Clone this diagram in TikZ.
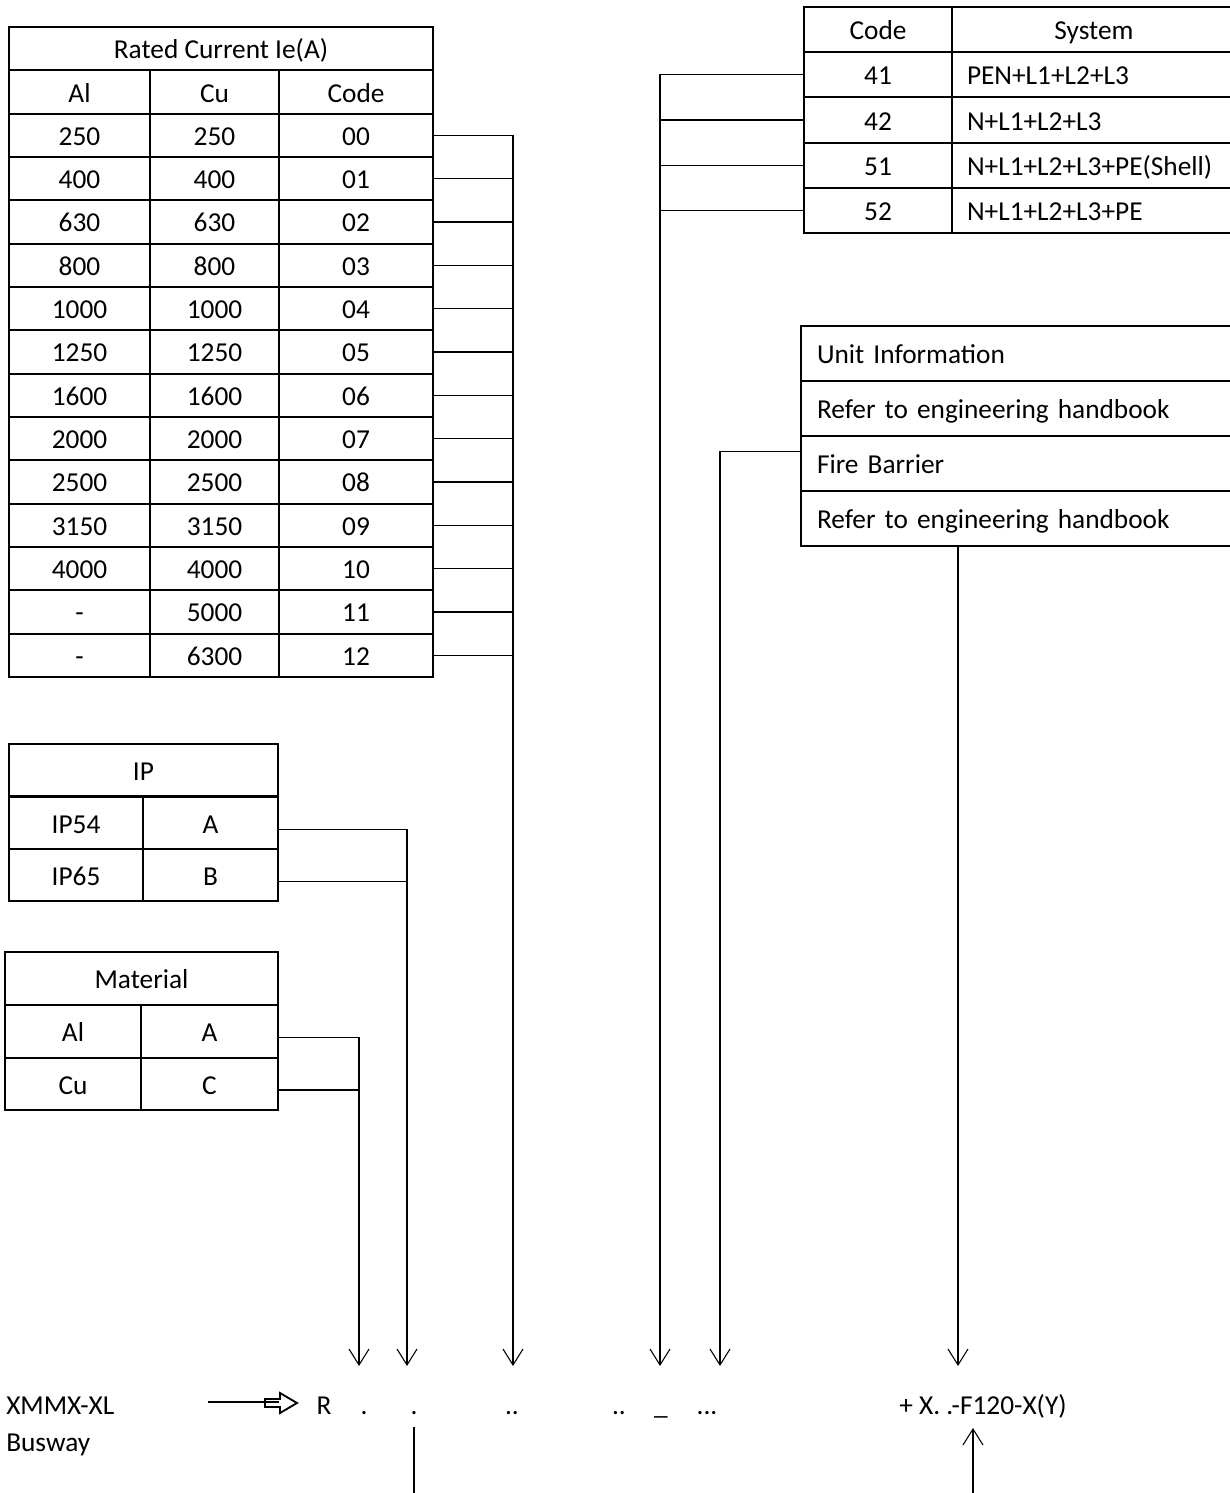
\documentclass[tikz,border=0pt]{standalone}
\usepackage{fontspec}
\setmainfont{Carlito}
\usetikzlibrary{arrows.meta, calc}
\tikzset{
  cellfont/.style={font=\fontsize{20.5}{24}\selectfont},
  cell/.style={draw, line width=1.5pt, inner sep=0pt, cellfont, text height=19pt,
    text depth=4pt, minimum width=#1*0.75pt},
  rowA/.style={minimum height=43.33*0.75pt},
  rowS/.style={minimum height=45.2*0.75pt},
  rowU/.style={minimum height=55*0.75pt},
  rowI/.style={minimum height=52.67*0.75pt},
  leftcell/.style={text width=#1*0.75pt, align=left},
  link/.style={line width=0.8pt},
  feed/.style={link, -{Straight Barb[length=12pt, width=15pt]}},
  codetext/.style={cellfont, inner sep=0pt, anchor=base},
}
\begin{document}
\begin{tikzpicture}[x=0.75pt, y=-0.75pt]
  \useasboundingbox (0,0) rectangle (1229,1493);

  % rated current table
  \node[cell=424, rowA] (rated) at (221,48.67) {Rated Current Ie(A)};
  \node[cell=141, rowA] (hAl) at (79.5,92) {Al};
  \node[cell=129, rowA] (hCu) at (214.5,92) {Cu};
  \node[cell=154, rowA] (hCode) at (356,92) {Code};
  \foreach \al/\cu/\code [count=\i from 0] in {250/250/00, 400/400/01, 630/630/02,
      800/800/03, 1000/1000/04, 1250/1250/05, 1600/1600/06, 2000/2000/07,
      2500/2500/08, 3150/3150/09, 4000/4000/10, -/5000/11, -/6300/12} {
    \pgfmathsetmacro\yy{135.33+43.33*\i}
    \node[cell=141, rowA] (al\code) at (79.5,\yy) {\al};
    \node[cell=129, rowA] (cu\code) at (214.5,\yy) {\cu};
    \node[cell=154, rowA] (c\code) at (356,\yy) {\code};
  }
  \coordinate (tipCur) at (513,1366);
  \draw[feed] (c00.east) -| (tipCur);
  \foreach \code in {01,02,03,04,05,06,07,08,09,10,11,12}
    \draw[link] (c\code.east) -- (c\code.east -| tipCur);

  % system table
  \node[cell=148, rowS] (sCode) at (878,29.6) {Code};
  \node[cell=284, rowS] (sSys) at (1094,29.6) {System};
  \foreach \code/\sys [count=\i] in {41/PEN+L1+L2+L3, 42/N+L1+L2+L3,
      51/N+L1+L2+L3+PE(Shell), 52/N+L1+L2+L3+PE} {
    \pgfmathsetmacro\yy{29.6+45.2*\i}
    \node[cell=148, rowS] (s\code) at (878,\yy) {\code};
    \node[cell=284, rowS, leftcell=254] (sys\code) at (1094,\yy) {\sys};
  }
  \coordinate (tipSys) at (660,1366);
  \draw[feed] (s41.west) -| (tipSys);
  \foreach \code in {42,51,52}
    \draw[link] (s\code.west) -- (s\code.west -| tipSys);

  % unit information table
  \node[cell=439, rowU, leftcell=407] (unitinfo) at (1020.5,353.5) {Unit Information};
  \node[cell=439, rowU, leftcell=407] (unitref) at (1020.5,408.5) {Refer to engineering handbook};
  \node[cell=439, rowU, leftcell=407] (fire) at (1020.5,463.5) {Fire Barrier};
  \node[cell=439, rowU, leftcell=407] (fireref) at (1020.5,518.5) {Refer to engineering handbook};
  \coordinate (tipFire) at (720,1366);
  \coordinate (tipUnit) at (958,1366);
  \draw[feed] ([yshift=9pt]fire.west) -| (tipFire);
  \draw[feed] (fireref.south -| tipUnit) -- (tipUnit);

  % IP table
  \node[cell=269, rowI] (ip) at (143.5,770) {IP};
  \node[cell=134, rowI] (ip54) at (76,823) {IP54};
  \node[cell=135, rowI] (ipA) at (210.5,823) {A};
  \node[cell=134, rowI] (ip65) at (76,875) {IP65};
  \node[cell=135, rowI] (ipB) at (210.5,875) {B};
  \coordinate (tipIP) at (407,1366);
  \draw[feed] ([yshift=-5pt]ipA.east) -| (tipIP);
  \draw[link] ([yshift=-5pt]ipB.east) -- ([yshift=-5pt]ipB.east -| tipIP);

  % material table
  \node[cell=273, rowI] (mat) at (141.5,978.5) {Material};
  \node[cell=136, rowI] (matAl) at (73,1031.5) {Al};
  \node[cell=137, rowI] (matA) at (209.5,1031.5) {A};
  \node[cell=136, rowI] (matCu) at (73,1084) {Cu};
  \node[cell=137, rowI] (matC) at (209.5,1084) {C};
  \coordinate (tipMat) at (359,1366);
  \draw[feed] ([yshift=-4.5pt]matA.east) -| (tipMat);
  \draw[link] ([yshift=-4.5pt]matC.east) -- ([yshift=-4.5pt]matC.east -| tipMat);

  % type code
  \node[codetext, anchor=base west] (brand) at (6,1414) {XMMX-XL};
  \node[codetext, anchor=base west] (busway) at (6,1451) {Busway};
  \coordinate (feedstart) at (208,1402);
  \coordinate (hollowtail) at (265,1403);
  \coordinate (feedend) at (279,1402);
  \draw[line width=1.4pt, line join=miter] (hollowtail) ++(0,-4) -- ++(15,0) -- ++(0,-6)
    -- ++(17,10) -- ++(-17,10) -- ++(0,-6) -- ++(-15,0) -- cycle;
  \draw[link] (feedstart) -- (feedend);
  \node[codetext] (codeR) at (324,1414) {R};
  \node[codetext] (dotA) at (364,1414) {.};
  \node[codetext] (dotB) at (414,1414) {.};
  \node[codetext] (dotC) at (512,1414) {..};
  \node[codetext] (dotD) at (619,1414) {..};
  \node[codetext] (bar) at (661,1414) {\_};
  \node[codetext] (dotE) at (707,1414) {...};
  \node[codetext, anchor=base west] (tail) at (899,1414) {+ X. .-F120-X(Y)};
  \coordinate (lowtop) at (414,1427);
  \coordinate (lowend) at (414,1493);
  \draw[link] (lowtop) -- (lowend);
  \coordinate (upfoot) at (973,1493);
  \coordinate (uptip) at (973,1428);
  \draw[feed] (upfoot) -- (uptip);
\end{tikzpicture}
\end{document}
